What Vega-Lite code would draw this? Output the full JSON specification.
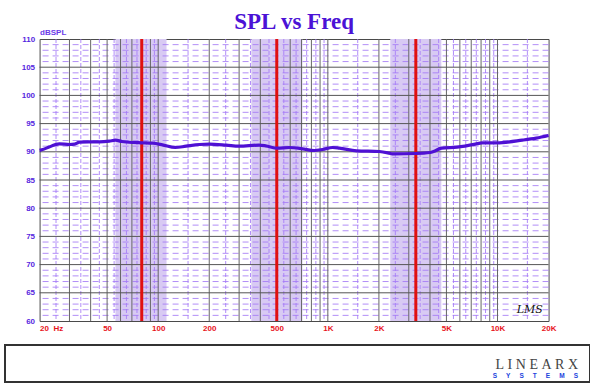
{
  "$schema": "https://vega.github.io/schema/vega-lite/v6.json",
  "padding": {"left": 1, "top": 10, "right": 0, "bottom": 0},
  "spacing": 11,
  "columns": 1,
  "center": true,
  "background": "white",
  "config": {
    "axisY": {
      "grid": false, "domain": false, "ticks": false,
      "labelFont": "Liberation Sans", "labelFontSize": 8, "labelFontWeight": "bold",
      "labelColor": "#5626E0", "labelPadding": 5, "minExtent": 38,
      "titleFont": "Liberation Sans", "titleFontSize": 8, "titleFontWeight": "bold",
      "titleColor": "#6A3BE8", "titleAngle": 0, "titleX": 0, "titleY": -3,
      "titleAlign": "left", "titleBaseline": "bottom"
    },
    "axisX": {
      "grid": false, "domain": false, "ticks": false,
      "labelFont": "Liberation Sans", "labelFontSize": 8, "labelFontWeight": "bold",
      "labelColor": "#E8141B", "labelPadding": 3, "labelFlush": false
    }
  },
  "datasets": {
    "curve": [
      {"f": 20, "spl": 90.25}, {"f": 20.6, "spl": 90.35}, {"f": 22.9, "spl": 90.88}, {"f": 24.6, "spl": 91.24},
      {"f": 26.2, "spl": 91.41}, {"f": 30, "spl": 91.29}, {"f": 32.2, "spl": 91.35}, {"f": 34.4, "spl": 91.71},
      {"f": 39, "spl": 91.77}, {"f": 45, "spl": 91.77}, {"f": 51.5, "spl": 91.89}, {"f": 56, "spl": 92.06},
      {"f": 61, "spl": 91.83}, {"f": 70.6, "spl": 91.65}, {"f": 80, "spl": 91.6}, {"f": 93, "spl": 91.53},
      {"f": 106, "spl": 91.24}, {"f": 126, "spl": 90.76}, {"f": 146, "spl": 91.0}, {"f": 175, "spl": 91.29},
      {"f": 200, "spl": 91.35}, {"f": 252, "spl": 91.18}, {"f": 300, "spl": 91.0}, {"f": 393, "spl": 91.18},
      {"f": 430, "spl": 91.06}, {"f": 504, "spl": 90.64}, {"f": 594, "spl": 90.76}, {"f": 710, "spl": 90.53},
      {"f": 832, "spl": 90.23}, {"f": 930, "spl": 90.41}, {"f": 1066, "spl": 90.76}, {"f": 1170, "spl": 90.64},
      {"f": 1476, "spl": 90.17}, {"f": 2012, "spl": 90.05}, {"f": 2300, "spl": 89.76}, {"f": 2400, "spl": 89.64},
      {"f": 3286, "spl": 89.7}, {"f": 4010, "spl": 89.88}, {"f": 4200, "spl": 90.05}, {"f": 4680, "spl": 90.64},
      {"f": 5780, "spl": 90.82}, {"f": 7400, "spl": 91.35}, {"f": 8100, "spl": 91.59}, {"f": 9860, "spl": 91.59},
      {"f": 14000, "spl": 92.06}, {"f": 16900, "spl": 92.42}, {"f": 20000, "spl": 92.89}
    ],
    "bands": [
      {"f1": 56, "f2": 112}, {"f1": 354, "f2": 707}, {"f1": 2333, "f2": 4666}
    ],
    "markers": [{"f": 80}, {"f": 500}, {"f": 3300}],
    "grayV": [
      {"f": 30}, {"f": 40}, {"f": 50}, {"f": 60}, {"f": 70}, {"f": 80}, {"f": 90}, {"f": 100},
      {"f": 200}, {"f": 300}, {"f": 400}, {"f": 500}, {"f": 600}, {"f": 700}, {"f": 800}, {"f": 900}, {"f": 1000},
      {"f": 2000}, {"f": 3000}, {"f": 4000}, {"f": 5000}, {"f": 6000}, {"f": 7000}, {"f": 8000}, {"f": 9000}, {"f": 10000}
    ],
    "minorV": [
      {"f": 25}, {"f": 35}, {"f": 45}, {"f": 55}, {"f": 65}, {"f": 75}, {"f": 85}, {"f": 95},
      {"f": 150}, {"f": 250}, {"f": 350}, {"f": 450}, {"f": 550}, {"f": 650}, {"f": 750}, {"f": 850}, {"f": 950},
      {"f": 1500}, {"f": 2500}, {"f": 3500}, {"f": 4500}, {"f": 5500}, {"f": 6500}, {"f": 7500}, {"f": 8500}, {"f": 9500},
      {"f": 15000}
    ],
    "majorH": [{"db": 65}, {"db": 70}, {"db": 75}, {"db": 80}, {"db": 85}, {"db": 90}, {"db": 95}, {"db": 100}, {"db": 105}],
    "minorH": [
      {"db": 61}, {"db": 62}, {"db": 63}, {"db": 64}, {"db": 66}, {"db": 67}, {"db": 68}, {"db": 69},
      {"db": 71}, {"db": 72}, {"db": 73}, {"db": 74}, {"db": 76}, {"db": 77}, {"db": 78}, {"db": 79},
      {"db": 81}, {"db": 82}, {"db": 83}, {"db": 84}, {"db": 86}, {"db": 87}, {"db": 88}, {"db": 89},
      {"db": 91}, {"db": 92}, {"db": 93}, {"db": 94}, {"db": 96}, {"db": 97}, {"db": 98}, {"db": 99},
      {"db": 101}, {"db": 102}, {"db": 103}, {"db": 104}, {"db": 106}, {"db": 107}, {"db": 108}, {"db": 109}
    ],
    "logo": [{"t": ""}]
  },
  "concat": [
    {
      "width": 509,
      "height": 282,
      "view": {"stroke": "#4a4a4a", "strokeWidth": 1},
      "title": {
        "text": "SPL vs Freq",
        "font": "Liberation Serif",
        "fontSize": 23,
        "fontWeight": "bold",
        "color": "#4B12D6",
        "anchor": "middle",
        "baseline": "alphabetic",
        "offset": -24
      },
      "layer": [
        {
          "data": {"name": "bands"},
          "mark": {"type": "rect", "color": "#D8CAF3"},
          "encoding": {
            "x": {"field": "f1", "type": "quantitative", "scale": {"type": "log", "domain": [20, 20000], "nice": false}},
            "x2": {"field": "f2"},
            "y": {"datum": 60, "type": "quantitative", "scale": {"domain": [60, 110], "nice": false, "zero": false},
                  "axis": {"values": [60, 65, 70, 75, 80, 85, 90, 95, 100, 105, 110]}},
            "y2": {"datum": 110}
          }
        },
        {
          "data": {"name": "minorH"},
          "mark": {"type": "rule", "color": "#A57AF6", "strokeWidth": 1, "strokeDash": [6, 4], "opacity": 0.85},
          "encoding": {"y": {"field": "db", "type": "quantitative", "axis": {"values": [60, 65, 70, 75, 80, 85, 90, 95, 100, 105, 110]}}}
        },
        {
          "data": {"name": "minorV"},
          "mark": {"type": "rule", "color": "#A57AF6", "strokeWidth": 1, "strokeDash": [4, 2], "opacity": 0.85},
          "encoding": {"x": {"field": "f", "type": "quantitative"}}
        },
        {
          "data": {"name": "grayV"},
          "mark": {"type": "rule", "color": "#666666", "strokeWidth": 1},
          "encoding": {"x": {"field": "f", "type": "quantitative"}}
        },
        {
          "data": {"name": "majorH"},
          "mark": {"type": "rule", "color": "#555555", "strokeWidth": 1},
          "encoding": {"y": {"field": "db", "type": "quantitative", "axis": {"values": [60, 65, 70, 75, 80, 85, 90, 95, 100, 105, 110]}}}
        },
        {
          "data": {"name": "markers"},
          "mark": {"type": "rule", "color": "#E01010", "strokeWidth": 3},
          "encoding": {"x": {"field": "f", "type": "quantitative"}}
        },
        {
          "data": {"name": "curve"},
          "mark": {"type": "line", "color": "#4F10D4", "strokeWidth": 3.2, "interpolate": "monotone"},
          "encoding": {
            "x": {
              "field": "f", "type": "quantitative",
              "axis": {
                "title": null,
                "values": [20, 50, 100, 200, 500, 1000, 2000, 5000, 10000, 20000],
                "labelExpr": "datum.value == 20 ? '20\u00a0\u00a0Hz' : (datum.value >= 1000 ? (datum.value / 1000) + 'K' : datum.value)",
                "labelAlign": {"condition": {"test": "datum.value == 20", "value": "left"}, "value": "center"}
              }
            },
            "y": {
              "field": "spl", "type": "quantitative",
              "axis": {"title": "dBSPL", "values": [60, 65, 70, 75, 80, 85, 90, 95, 100, 105, 110]}
            }
          }
        },
        {
          "data": {"values": [{"label": "LMS"}]},
          "mark": {"type": "text", "font": "DejaVu Serif", "fontStyle": "italic", "fontSize": 11, "color": "#111111"},
          "encoding": {
            "x": {"datum": 15500, "type": "quantitative"},
            "y": {"datum": 62, "type": "quantitative", "axis": {"values": [60, 65, 70, 75, 80, 85, 90, 95, 100, 105, 110]}},
            "text": {"field": "label"}
          }
        }
      ]
    },
    {
      "width": 585,
      "height": 37,
      "view": {"stroke": "#333333", "strokeWidth": 2},
      "title": {
        "text": "L\u00a0I\u00a0N\u00a0E\u00a0A\u00a0R\u00a0X",
        "subtitle": "S\u00a0\u00a0\u00a0\u00a0\u00a0Y\u00a0\u00a0\u00a0\u00a0\u00a0S\u00a0\u00a0\u00a0\u00a0\u00a0T\u00a0\u00a0\u00a0\u00a0\u00a0E\u00a0\u00a0\u00a0\u00a0\u00a0M\u00a0\u00a0\u00a0\u00a0\u00a0S",
        "font": "Liberation Serif",
        "fontSize": 14,
        "fontWeight": "normal",
        "color": "#444444",
        "subtitleFont": "Liberation Sans",
        "subtitleFontSize": 6.5,
        "subtitleFontWeight": "bold",
        "subtitleColor": "#2244DD",
        "subtitlePadding": -5,
        "anchor": "end",
        "baseline": "alphabetic",
        "offset": -45,
        "dx": -12
      },
      "data": {"name": "logo"},
      "mark": {"type": "text"},
      "encoding": {"text": {"field": "t"}}
    }
  ]
}
